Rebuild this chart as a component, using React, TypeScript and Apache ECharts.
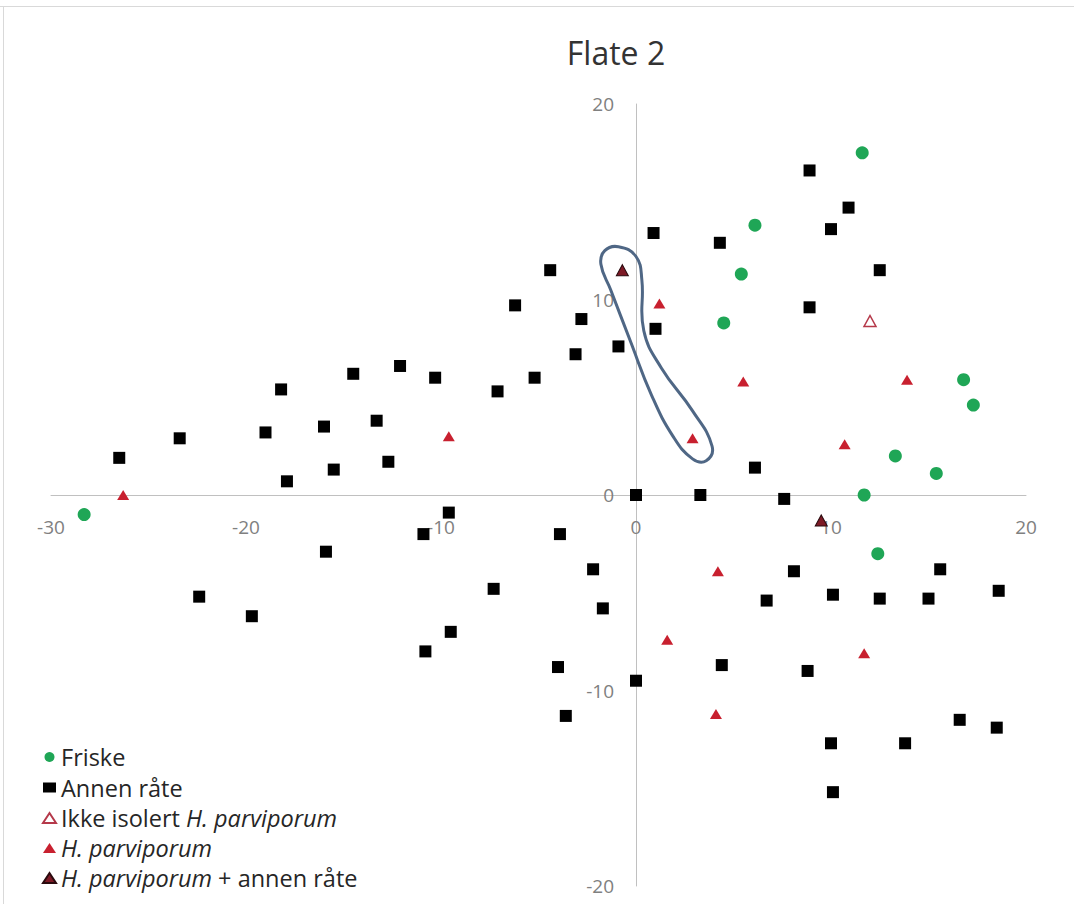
import React, { useEffect, useRef } from "react";
import * as echarts from "echarts";

const titleText = "Flate 2";
const xTicks = { min: -30, max: 20, interval: 10 };
const yTicks = { min: -20, max: 20, interval: 10 };

const seriesNames = [
  "Friske",
  "Annen råte",
  "Ikke isolert H. parviporum",
  "H. parviporum",
  "H. parviporum + annen råte",
];

const friske: number[][] = [
  [-28.3, -1.0], [11.6, 17.5], [6.1, 13.8], [5.4, 11.3], [4.5, 8.8], [16.8, 5.9],
  [17.3, 4.6], [13.3, 2.0], [15.4, 1.1], [11.7, 0], [12.4, -3.0],
];

const annenRate: number[][] = [
  [-26.5, 1.9], [-23.4, 2.9], [-19.0, 3.2], [-18.2, 5.4], [-17.9, 0.7], [-16.0, 3.5],
  [-15.5, 1.3], [-14.5, 6.2], [-12.1, 6.6], [-13.3, 3.8], [-12.7, 1.7], [-10.3, 6.0],
  [-7.1, 5.3], [-5.2, 6.0], [-6.2, 9.7], [-4.4, 11.5], [-2.8, 9.0], [-3.1, 7.2],
  [-0.9, 7.6], [1.0, 8.5], [0, 0], [-9.6, -0.9], [-10.9, -2.0], [-3.9, -2.0],
  [0.9, 13.4], [4.3, 12.9], [8.9, 16.6], [10.9, 14.7], [10.0, 13.6], [12.5, 11.5],
  [8.9, 9.6], [6.1, 1.4], [3.3, 0], [7.6, -0.2], [-22.4, -5.2], [-19.7, -6.2],
  [-15.9, -2.9], [-7.3, -4.8], [-2.2, -3.8], [-1.7, -5.8], [-9.5, -7.0], [-10.8, -8.0],
  [-4.0, -8.8], [0, -9.5], [-3.6, -11.3], [8.1, -3.9], [6.7, -5.4], [10.1, -5.1],
  [12.5, -5.3], [15.0, -5.3], [15.6, -3.8], [18.6, -4.9], [4.4, -8.7], [8.8, -9.0],
  [16.6, -11.5], [18.5, -11.9], [10.0, -12.7], [13.8, -12.7], [10.1, -15.2],
];

const ikkeIsolert: number[][] = [[12.0, 8.9]];

const hParviporum: number[][] = [
  [-26.3, 0.0], [-9.6, 3.0], [1.2, 9.8], [5.5, 5.8], [2.9, 2.9], [13.9, 5.9],
  [10.7, 2.6], [4.2, -3.9], [1.6, -7.4], [11.7, -8.1], [4.1, -11.2],
];

const hParvAnnen: number[][] = [[-0.7, 11.5], [9.5, -1.3]];

// Hand-drawn loop annotation (data coordinates)
const loopX = [-0.9, 0.0, 0.3, 0.4, 1.3, 2.9, 3.9, 3.6, 2.9, 1.9, 0.8, -0.3, -1.3, -1.8, -1.6];
const loopY = [12.7, 12.2, 11.0, 8.4, 6.5, 4.3, 2.5, 1.75, 1.85, 3.0, 5.1, 7.9, 10.5, 11.8, 12.5];

const FONT = "'Open Sans', 'Noto Sans', sans-serif";

const GRID = { left: 51, top: 104, width: 975, height: 782 };

export default function App() {
  const ref = useRef<HTMLDivElement>(null);

  useEffect(() => {
    if (!ref.current) return;
    const chart = echarts.init(ref.current, undefined, { renderer: "svg" });

    // Place the axes at the zero crossing (labels follow the line)
    const xAxisOffset = -GRID.height * (0 - yTicks.min) / (yTicks.max - yTicks.min);
    const yAxisOffset = -GRID.width * (0 - xTicks.min) / (xTicks.max - xTicks.min);

    const axisCommon = {
      type: "value" as const,
      axisLine: { onZero: false, lineStyle: { color: "#c0c0c0", width: 1 } },
      axisTick: { show: false },
      splitLine: { show: false },
    };

    const option: any = {
      animation: false,
      backgroundColor: "#ffffff",
      graphic: [
        {
          type: "line",
          shape: { x1: 0, y1: 6.5, x2: 1074, y2: 6.5 },
          style: { stroke: "#d9d9d9", lineWidth: 1 },
          silent: true,
        },
        {
          type: "line",
          shape: { x1: 3.5, y1: 6.5, x2: 3.5, y2: 904 },
          style: { stroke: "#d9d9d9", lineWidth: 1 },
          silent: true,
        },
        {
          type: "text",
          x: 616,
          y: 52,
          style: {
            text: titleText,
            font: `32px ${FONT}`,
            fill: "#333333",
            textAlign: "center",
            textVerticalAlign: "middle",
          },
        },
      ],
      grid: { ...GRID, containLabel: false },
      xAxis: {
        ...axisCommon,
        position: "bottom",
        offset: xAxisOffset,
        min: xTicks.min,
        max: xTicks.max,
        interval: xTicks.interval,
        axisLabel: { margin: 22, fontSize: 19, color: "#808080", fontFamily: FONT },
      },
      yAxis: {
        ...axisCommon,
        position: "left",
        offset: yAxisOffset,
        min: yTicks.min,
        max: yTicks.max,
        interval: yTicks.interval,
        axisLabel: { margin: 22, fontSize: 19, color: "#808080", fontFamily: FONT },
      },
      legend: {
        data: seriesNames,
        orient: "vertical",
        left: 37,
        top: 740,
        itemWidth: 13,
        itemHeight: 10,
        itemGap: 6.5,
        formatter: (name: string) => name.replace("H. parviporum", "{i|H. parviporum}"),
        textStyle: {
          fontSize: 23.5,
          fontFamily: FONT,
          color: "#262626",
          lineHeight: 23,
          rich: {
            i: { fontSize: 23.5, fontFamily: FONT, fontStyle: "italic", color: "#262626", lineHeight: 23 },
          },
        },
      },
      series: [
        {
          type: "custom",
          name: "loop",
          silent: true,
          z: 1,
          data: [[0, 0]],
          renderItem: (_params: any, api: any) => {
            const pts = loopX.map((x, i) => api.coord([x, loopY[i]]));
            return {
              type: "polygon",
              shape: { points: pts, smooth: 0.45 },
              style: { fill: "none", stroke: "#4f6785", lineWidth: 3 },
            };
          },
        },
        {
          name: seriesNames[0],
          type: "scatter",
          symbol: "circle",
          symbolSize: 13,
          itemStyle: { color: "#1fa656", opacity: 1 },
          data: friske,
        },
        {
          name: seriesNames[1],
          type: "scatter",
          symbol: "rect",
          symbolSize: 12,
          itemStyle: { color: "#000000", opacity: 1 },
          data: annenRate,
        },
        {
          name: seriesNames[2],
          type: "scatter",
          symbol: "triangle",
          symbolSize: [12, 11],
          itemStyle: { color: "#ffffff", borderColor: "#b5394a", borderWidth: 1.5, opacity: 1 },
          data: ikkeIsolert,
        },
        {
          name: seriesNames[3],
          type: "scatter",
          symbol: "triangle",
          symbolSize: [12, 10],
          itemStyle: { color: "#c8202f", opacity: 1 },
          data: hParviporum,
        },
        {
          name: seriesNames[4],
          type: "scatter",
          symbol: "triangle",
          symbolSize: [12, 11],
          itemStyle: { color: "#7d1a26", borderColor: "#2a0a0e", borderWidth: 1, opacity: 1 },
          data: hParvAnnen,
        },
      ],
    };

    chart.setOption(option);
    return () => chart.dispose();
  }, []);

  return (
    <div
      ref={ref}
      style={{ position: "absolute", left: 0, top: 0, width: 1074, height: 908 }}
    />
  );
}
